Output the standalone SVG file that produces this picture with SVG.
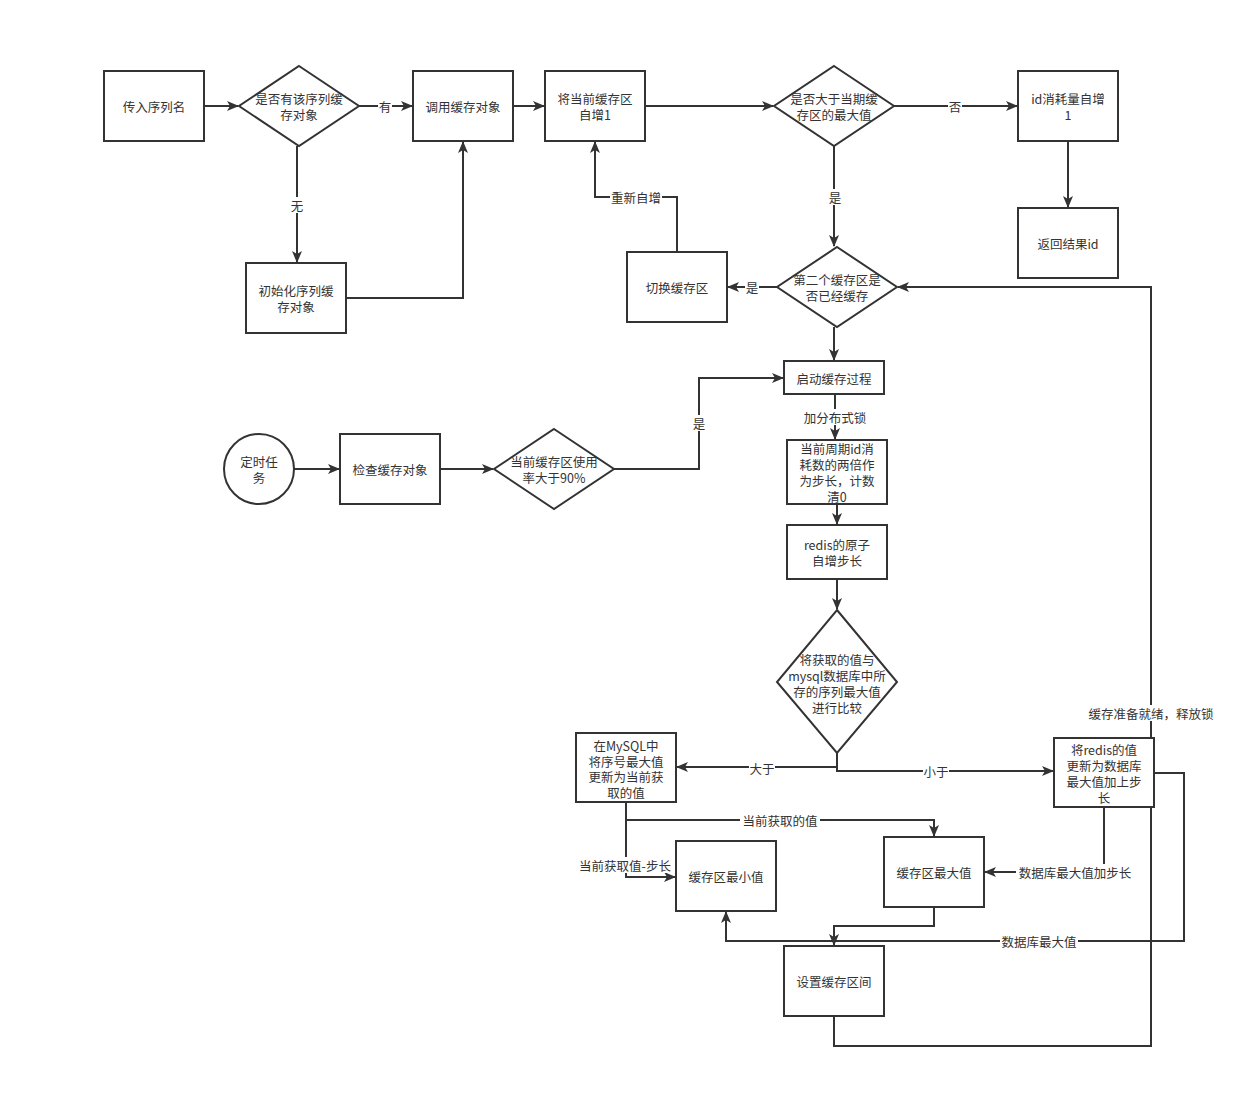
<svg xmlns="http://www.w3.org/2000/svg" width="1245" height="1108" viewBox="0 0 1245 1108">
<defs>
<marker id="arr" viewBox="0 0 12 10" refX="11" refY="5" markerWidth="12" markerHeight="10" markerUnits="userSpaceOnUse" orient="auto">
<path d="M0,0 L12,5 L0,10 L3,5 z" fill="#333"/>
</marker>
<style>
.n{fill:#fff;stroke:#333;stroke-width:2}
.t{font-family:"Noto Sans CJK SC","Liberation Sans",sans-serif;font-size:12.5px;fill:#333;text-anchor:middle;dominant-baseline:central}
.c{fill:none;stroke:#333;stroke-width:2;marker-end:url(#arr)}
.p{fill:none;stroke:#333;stroke-width:2}
.lb{fill:#fff}
</style>
</defs>
<rect width="1245" height="1108" fill="#fff"/>
<g id="connectors">
<path class="c" d="M204,106 H238"/>
<path class="c" d="M359,106 H412"/>
<path class="c" d="M297,146 V262"/>
<path class="c" d="M346,298 H463 V142"/>
<path class="c" d="M513,106 H544"/>
<path class="c" d="M645,106 H773"/>
<path class="c" d="M894,106 H1017"/>
<path class="c" d="M1068,141 V207"/>
<path class="c" d="M834,146 V246"/>
<path class="c" d="M777,287 H728"/>
<path class="c" d="M677,252 V197 H595 V142"/>
<path class="c" d="M834,327 V360"/>
<path class="c" d="M835,394 V439"/>
<path class="c" d="M837,504 V524"/>
<path class="c" d="M837,579 V609"/>
<path class="c" d="M294,469 H339"/>
<path class="c" d="M440,469 H493"/>
<path class="c" d="M614,469 H699 V378 H783"/>
<path class="c" d="M837,753 V767 H677"/>
<path class="c" d="M837,767 V771 H1053"/>
<path class="c" d="M626,802 V820 H934 V836"/>
<path class="c" d="M626,820 V877 H675"/>
<path class="c" d="M1104,807 V872 H985"/>
<path class="c" d="M1154,773 H1184 V941 H726 V912"/>
<path class="c" d="M934,907 V926 H834 V945"/>
<path class="c" d="M834,1016 V1046 H1151 V287 H898"/>
</g>
<g id="labels">
<rect class="lb" x="378" y="98" width="14" height="16"/><text class="t" x="385" y="106">有</text>
<rect class="lb" x="290" y="197" width="14" height="16"/><text class="t" x="297" y="205">无</text>
<rect class="lb" x="948" y="98" width="14" height="16"/><text class="t" x="955" y="106">否</text>
<rect class="lb" x="828" y="189" width="14" height="16"/><text class="t" x="835" y="197">是</text>
<rect class="lb" x="745" y="279" width="14" height="16"/><text class="t" x="752" y="287">是</text>
<rect class="lb" x="610" y="189" width="52" height="16"/><text class="t" x="636" y="197">重新自增</text>
<rect class="lb" x="802" y="409" width="66" height="16"/><text class="t" x="835" y="417">加分布式锁</text>
<rect class="lb" x="692" y="415" width="14" height="16"/><text class="t" x="699" y="423">是</text>
<rect class="lb" x="749" y="760" width="26" height="16"/><text class="t" x="762" y="768">大于</text>
<rect class="lb" x="923" y="763" width="26" height="16"/><text class="t" x="936" y="771">小于</text>
<rect class="lb" x="740" y="812" width="80" height="16"/><text class="t" x="780" y="820">当前获取的值</text>
<rect class="lb" x="576" y="857" width="98" height="16"/><text class="t" x="625" y="865">当前获取值-步长</text>
<rect class="lb" x="1016" y="864" width="118" height="16"/><text class="t" x="1075" y="872">数据库最大值加步长</text>
<rect class="lb" x="1000" y="933" width="78" height="16"/><text class="t" x="1039" y="941">数据库最大值</text>
<rect class="lb" x="1086" y="705" width="130" height="16"/><text class="t" x="1151" y="713">缓存准备就绪，释放锁</text>
</g>
<g id="n1"><rect class="n" x="104" y="71" width="100" height="70"/><text class="t" x="154" y="106">传入序列名</text></g>
<g id="n2"><polygon class="n" points="299,66 359,106 299,146 239,106"/><text class="t" x="299" y="98">是否有该序列缓</text><text class="t" x="299" y="114">存对象</text></g>
<g id="n3"><rect class="n" x="413" y="71" width="100" height="70"/><text class="t" x="463" y="106">调用缓存对象</text></g>
<g id="n4"><rect class="n" x="545" y="71" width="100" height="70"/><text class="t" x="595" y="98">将当前缓存区</text><text class="t" x="595" y="114">自增1</text></g>
<g id="n5"><polygon class="n" points="834,66 894,106 834,146 774,106"/><text class="t" x="834" y="98">是否大于当期缓</text><text class="t" x="834" y="114">存区的最大值</text></g>
<g id="n6"><rect class="n" x="1018" y="71" width="100" height="70"/><text class="t" x="1068" y="98">id消耗量自增</text><text class="t" x="1068" y="114">1</text></g>
<g id="n7"><rect class="n" x="1018" y="208" width="100" height="70"/><text class="t" x="1068" y="243">返回结果id</text></g>
<g id="n8"><rect class="n" x="246" y="263" width="100" height="70"/><text class="t" x="296" y="290">初始化序列缓</text><text class="t" x="296" y="306">存对象</text></g>
<g id="n9"><rect class="n" x="627" y="252" width="100" height="70"/><text class="t" x="677" y="287">切换缓存区</text></g>
<g id="n10"><polygon class="n" points="837,247 897,287 837,327 777,287"/><text class="t" x="837" y="279">第二个缓存区是</text><text class="t" x="837" y="295">否已经缓存</text></g>
<g id="n11"><rect class="n" x="784" y="361" width="100" height="33"/><text class="t" x="834" y="378">启动缓存过程</text></g>
<g id="n12"><rect class="n" x="787" y="440" width="100" height="64"/><text class="t" x="837" y="448">当前周期id消</text><text class="t" x="837" y="464">耗数的两倍作</text><text class="t" x="837" y="480">为步长，计数</text><text class="t" x="837" y="496">清0</text></g>
<g id="n13"><rect class="n" x="787" y="525" width="100" height="54"/><text class="t" x="837" y="544">redis的原子</text><text class="t" x="837" y="560">自增步长</text></g>
<g id="n14"><polygon class="n" points="837,610 897,682 837,753 777,682"/><text class="t" x="837" y="659">将获取的值与</text><text class="t" x="837" y="675">mysql数据库中所</text><text class="t" x="837" y="691">存的序列最大值</text><text class="t" x="837" y="707">进行比较</text></g>
<g id="n15"><circle class="n" cx="259" cy="469" r="35"/><text class="t" x="259" y="461">定时任</text><text class="t" x="259" y="477">务</text></g>
<g id="n16"><rect class="n" x="340" y="434" width="100" height="70"/><text class="t" x="390" y="469">检查缓存对象</text></g>
<g id="n17"><polygon class="n" points="554,429 614,469 554,509 494,469"/><text class="t" x="554" y="461">当前缓存区使用</text><text class="t" x="554" y="477">率大于90%</text></g>
<g id="n18"><rect class="n" x="576" y="733" width="100" height="69"/><text class="t" x="626" y="745">在MySQL中</text><text class="t" x="626" y="761">将序号最大值</text><text class="t" x="626" y="776">更新为当前获</text><text class="t" x="626" y="792">取的值</text></g>
<g id="n19"><rect class="n" x="1054" y="738" width="100" height="69"/><text class="t" x="1104" y="749">将redis的值</text><text class="t" x="1104" y="765">更新为数据库</text><text class="t" x="1104" y="781">最大值加上步</text><text class="t" x="1104" y="797">长</text></g>
<g id="n20"><rect class="n" x="676" y="841" width="100" height="70"/><text class="t" x="726" y="876">缓存区最小值</text></g>
<g id="n21"><rect class="n" x="884" y="837" width="100" height="70"/><text class="t" x="934" y="872">缓存区最大值</text></g>
<g id="n22"><rect class="n" x="784" y="946" width="100" height="70"/><text class="t" x="834" y="981">设置缓存区间</text></g>
</svg>
